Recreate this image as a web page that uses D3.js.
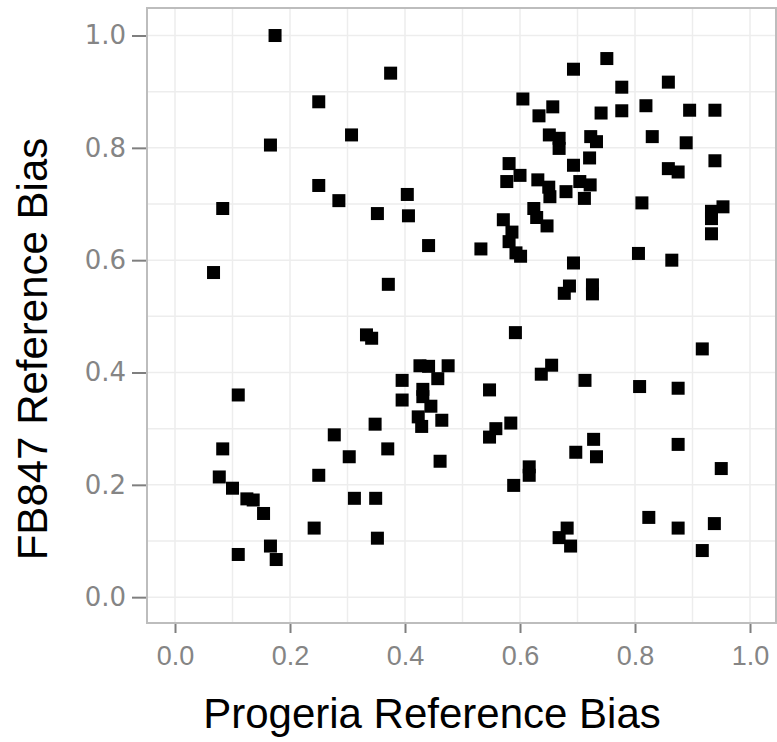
<!DOCTYPE html>
<html lang="en">
<head>
    <meta charset="UTF-8">
    <title>Reference Bias Scatter</title>
    <style>
        body {
            margin: 0;
            background: #ffffff;
            font-family: "Liberation Sans", Arial, sans-serif;
            overflow: hidden;
        }

        .tick-label {
            fill: #858585;
        }

        .x-tick {
            font-family: "Liberation Sans", Arial, sans-serif;
            font-size: 27px;
        }

        .y-tick {
            font-family: "DejaVu Sans", Verdana, sans-serif;
            font-size: 26px;
        }

        .axis-title {
            fill: #000000;
            font-size: 42px;
        }
    </style>
</head>
<body>
    <div id="chart"></div>
    <script src="https://d3js.org/d3.v7.min.js"></script>
    <script>
    // Progeria reference bias (x) and FB847 reference bias (y), one entry per site
    const progeriaBias = [
        0.174, 0.375, 0.250, 0.307, 0.166, 0.250, 0.285, 0.404, 0.352, 0.406, 0.441, 0.083, 0.067, 0.371,
        0.751, 0.693, 0.858, 0.777, 0.605, 0.657, 0.633, 0.741, 0.777, 0.819, 0.895, 0.939,
        0.651, 0.668, 0.668, 0.723, 0.733, 0.830, 0.889, 0.939, 0.721, 0.581, 0.693, 0.858, 0.875,
        0.600, 0.577, 0.631, 0.650, 0.652, 0.680, 0.704, 0.722, 0.712, 0.812, 0.953, 0.933, 0.933, 0.933,
        0.624, 0.629, 0.647, 0.571, 0.586, 0.581, 0.593, 0.601, 0.532, 0.693, 0.806, 0.864,
        0.686, 0.677, 0.726, 0.726,
        0.333, 0.342, 0.426, 0.441, 0.475, 0.395, 0.457, 0.431, 0.431, 0.395, 0.445, 0.423, 0.429,
        0.464, 0.348, 0.277, 0.370, 0.303, 0.461, 0.250, 0.083, 0.077, 0.100, 0.125, 0.136, 0.154,
        0.312, 0.349, 0.242, 0.352, 0.110, 0.110, 0.166, 0.176,
        0.592, 0.917, 0.655, 0.637, 0.713, 0.547, 0.808, 0.875, 0.584, 0.558, 0.547, 0.728, 0.697,
        0.733, 0.875, 0.950, 0.616, 0.616, 0.589, 0.824, 0.875, 0.938, 0.917, 0.682, 0.668, 0.688
    ];
    const fb847Bias = [
        1.000, 0.933, 0.882, 0.823, 0.805, 0.733, 0.706, 0.717, 0.683, 0.679, 0.626, 0.692, 0.578, 0.557,
        0.959, 0.940, 0.917, 0.908, 0.887, 0.873, 0.857, 0.862, 0.866, 0.875, 0.867, 0.867,
        0.823, 0.817, 0.799, 0.820, 0.811, 0.820, 0.809, 0.777, 0.782, 0.772, 0.769, 0.763, 0.757,
        0.751, 0.740, 0.743, 0.730, 0.713, 0.722, 0.740, 0.734, 0.710, 0.702, 0.695, 0.687, 0.674, 0.647,
        0.692, 0.676, 0.661, 0.672, 0.650, 0.633, 0.613, 0.607, 0.620, 0.595, 0.612, 0.600,
        0.554, 0.541, 0.556, 0.540,
        0.467, 0.461, 0.412, 0.411, 0.412, 0.386, 0.389, 0.370, 0.357, 0.351, 0.340, 0.321, 0.304,
        0.315, 0.308, 0.289, 0.264, 0.250, 0.242, 0.217, 0.264, 0.214, 0.194, 0.175, 0.173, 0.149,
        0.176, 0.176, 0.123, 0.105, 0.360, 0.076, 0.091, 0.067,
        0.471, 0.442, 0.413, 0.397, 0.386, 0.369, 0.375, 0.372, 0.310, 0.300, 0.285, 0.281, 0.258,
        0.250, 0.272, 0.229, 0.232, 0.217, 0.199, 0.142, 0.123, 0.131, 0.083, 0.123, 0.106, 0.091
    ];
    const majorTicks = [0.0, 0.2, 0.4, 0.6, 0.8, 1.0];
    const minorTicks = [0.1, 0.3, 0.5, 0.7, 0.9];
    const xTitle = "Progeria Reference Bias";
    const yTitle = "FB847 Reference Bias";

    const width = 777;
    const height = 742;
    const panel = { left: 147, right: 776, top: 8, bottom: 623 };
    const pointSize = 13;

    const svg = d3.select('#chart').append('svg')
        .attr('width', width)
        .attr('height', height);

    const xScale = d3.scaleLinear().domain([-0.0487, 1.0452]).range([panel.left, panel.right]);
    const yScale = d3.scaleLinear().domain([-0.046, 1.049]).range([panel.bottom, panel.top]);

    // panel grid
    const grid = svg.append('g');
    grid.selectAll('.vgrid')
        .data(majorTicks.concat(minorTicks))
        .join('line')
        .attr('x1', d => xScale(d)).attr('x2', d => xScale(d))
        .attr('y1', panel.top).attr('y2', panel.bottom)
        .attr('stroke', '#ededed')
        .attr('stroke-width', 1.5);
    grid.selectAll('.hgrid')
        .data(majorTicks.concat(minorTicks))
        .join('line')
        .attr('y1', d => yScale(d)).attr('y2', d => yScale(d))
        .attr('x1', panel.left).attr('x2', panel.right)
        .attr('stroke', '#ededed')
        .attr('stroke-width', 1.5);

    svg.append('rect')
        .attr('x', panel.left)
        .attr('y', panel.top)
        .attr('width', panel.right - panel.left)
        .attr('height', panel.bottom - panel.top)
        .attr('fill', 'none')
        .attr('stroke', '#bdbdbd')
        .attr('stroke-width', 2);

    // axes
    const xAxis = d3.axisBottom(xScale)
        .tickValues(majorTicks)
        .tickFormat(d3.format('.1f'))
        .tickSize(9)
        .tickPadding(10);
    const gx = svg.append('g')
        .attr('transform', `translate(0, ${panel.bottom + 1})`)
        .call(xAxis);

    const yAxis = d3.axisLeft(yScale)
        .tickValues(majorTicks)
        .tickFormat(d3.format('.1f'))
        .tickSize(14)
        .tickPadding(6);
    const gy = svg.append('g')
        .attr('transform', `translate(${panel.left - 1}, 0)`)
        .call(yAxis);

    [gx, gy].forEach(g => {
        g.select('.domain').remove();
        g.selectAll('.tick line').attr('stroke', '#7f7f7f').attr('stroke-width', 2);
        g.selectAll('.tick text')
            .attr('font-family', null)
            .attr('font-size', null)
            .attr('fill', null);
    });
    gx.selectAll('.tick text').attr('class', 'tick-label x-tick').attr('dy', '0.8em');
    gy.selectAll('.tick text').attr('class', 'tick-label y-tick');

    // points
    const points = progeriaBias.map((x, i) => ({ x: x, y: fb847Bias[i] }));
    svg.append('g')
        .selectAll('rect')
        .data(points)
        .join('rect')
        .attr('x', d => xScale(d.x) - pointSize / 2)
        .attr('y', d => yScale(d.y) - pointSize / 2)
        .attr('width', pointSize)
        .attr('height', pointSize)
        .attr('fill', '#000000');

    // titles
    svg.append('text')
        .attr('class', 'axis-title')
        .attr('x', 432)
        .attr('y', 728)
        .attr('text-anchor', 'middle')
        .text(xTitle);

    svg.append('text')
        .attr('class', 'axis-title')
        .attr('transform', `translate(47, 349) rotate(-90)`)
        .attr('text-anchor', 'middle')
        .text(yTitle);
    </script>
</body>
</html>
